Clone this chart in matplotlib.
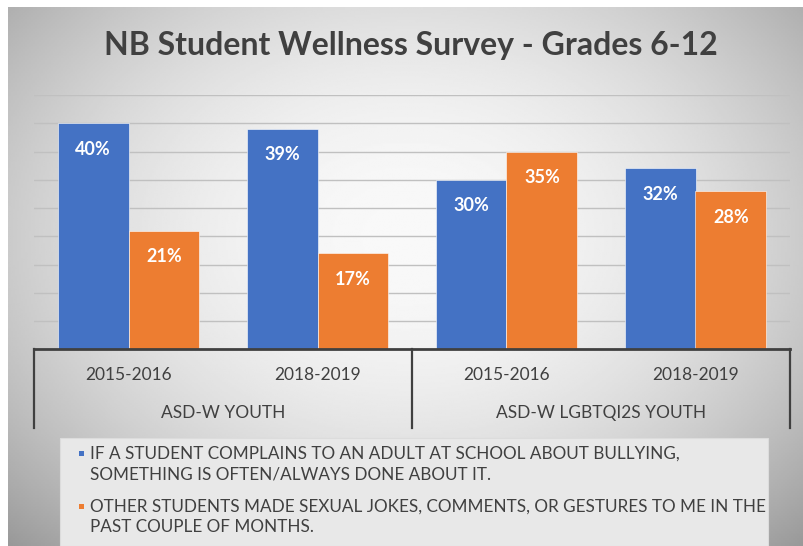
import numpy as np
import matplotlib.pyplot as plt
from matplotlib.patches import Rectangle

# dados
periods = ['2015-2016', '2018-2019', '2015-2016', '2018-2019']
groups = ['ASD-W YOUTH', 'ASD-W LGBTQI2S YOUTH']
series_names = ['IF A STUDENT COMPLAINS TO AN ADULT AT SCHOOL ABOUT BULLYING,\nSOMETHING IS OFTEN/ALWAYS DONE ABOUT IT.',
                'OTHER STUDENTS MADE SEXUAL JOKES, COMMENTS, OR GESTURES TO ME IN THE\nPAST COUPLE OF MONTHS.']
complaint_done = [40, 39, 30, 32]
sexual_jokes = [21, 17, 35, 28]

blue = '#4472C4'
orange = '#ED7D31'
txt = '#404040'
W, H = 804, 546

fig = plt.figure(figsize=(W / 100, H / 100), dpi=100)
fig.patch.set_facecolor('white')

# fundo com degradê radial (estilo Excel)
bg = fig.add_axes([8 / W, 0, 1 - 8 / W, 1 - 7 / H])
xx, yy = np.meshgrid(np.linspace(-1, 1, 400), np.linspace(-1, 1, 300))
r = np.sqrt(xx ** 2 + ((yy + 0.15) / 1.1) ** 2)
shade = 0.975 - 0.18 * r ** 2
bg.imshow(shade, cmap='gray', vmin=0, vmax=1, aspect='auto', extent=[0, 1, 0, 1])
bg.axis('off')

ax = fig.add_axes([34 / W, 1 - 349.3 / H, 756 / W, 254.3 / H])
ax.set_facecolor('none')
x = np.arange(len(periods))
w = 0.375
b1 = ax.bar(x - w / 2, complaint_done, w, color=blue, edgecolor='white', linewidth=0.4, zorder=3)
b2 = ax.bar(x + w / 2, sexual_jokes, w, color=orange, edgecolor='white', linewidth=0.4, zorder=3)

for bars, vals in [(b1, complaint_done), (b2, sexual_jokes)]:
    for rect, v in zip(bars, vals):
        ax.text(rect.get_x() + rect.get_width() / 2, v - 4.6, f'{v}%', ha='center', va='center',
                color='white', fontsize=13, fontweight='bold', family='Lato', zorder=4)

ax.set_xlim(-0.5, 3.5)
ax.set_ylim(0, 45)
ax.set_yticks(np.arange(5, 50, 5))
ax.yaxis.grid(True, color='#c0c0c0', linewidth=1)
ax.tick_params(left=False, labelleft=False, bottom=False, labelbottom=False)
for s in ax.spines.values():
    s.set_visible(False)

# eixo de categorias em dois níveis
tr = ax.get_xaxis_transform()
ax.plot([-0.5, 3.5], [0, 0], color='#404040', linewidth=2, transform=tr, clip_on=False, zorder=5)
for xv in [-0.5, 1.5, 3.5]:
    ax.plot([xv, xv], [0, -0.31], color='#404040', linewidth=1.6, transform=tr, clip_on=False)
for i, p in enumerate(periods):
    ax.text(i, -0.101, p, transform=tr, ha='center', va='center', fontsize=12.5,
            color=txt, family='Lato')
for j, g in enumerate(groups):
    ax.text(2 * j + 0.5, -0.25, g, transform=tr, ha='center', va='center', fontsize=12.5,
            color=txt, family='Lato')

fig.text(411 / W, 1 - 46 / H, 'NB Student Wellness Survey - Grades 6-12', ha='center', va='center',
         fontsize=23, fontweight='bold', color=txt, family='Lato')

# legenda desenhada à mão
fig.patches.append(Rectangle((60 / W, 0), 708 / W, 108 / H, transform=fig.transFigure,
                             facecolor='#e8e8e8', edgecolor='#dcdcdc', linewidth=0.8))
for ypix, name, col in [(453, series_names[0], blue), (506, series_names[1], orange)]:
    fig.patches.append(Rectangle((79 / W, 1 - (ypix + 2.5) / H), 5 / W, 5 / H,
                                 transform=fig.transFigure, facecolor=col, edgecolor='none'))
    fig.text(90 / W, 1 - (ypix + 11) / H, name, ha='left', va='center', fontsize=12.3,
             color=txt, family='Lato', linespacing=1.35)

plt.savefig('out.png', dpi=100)
